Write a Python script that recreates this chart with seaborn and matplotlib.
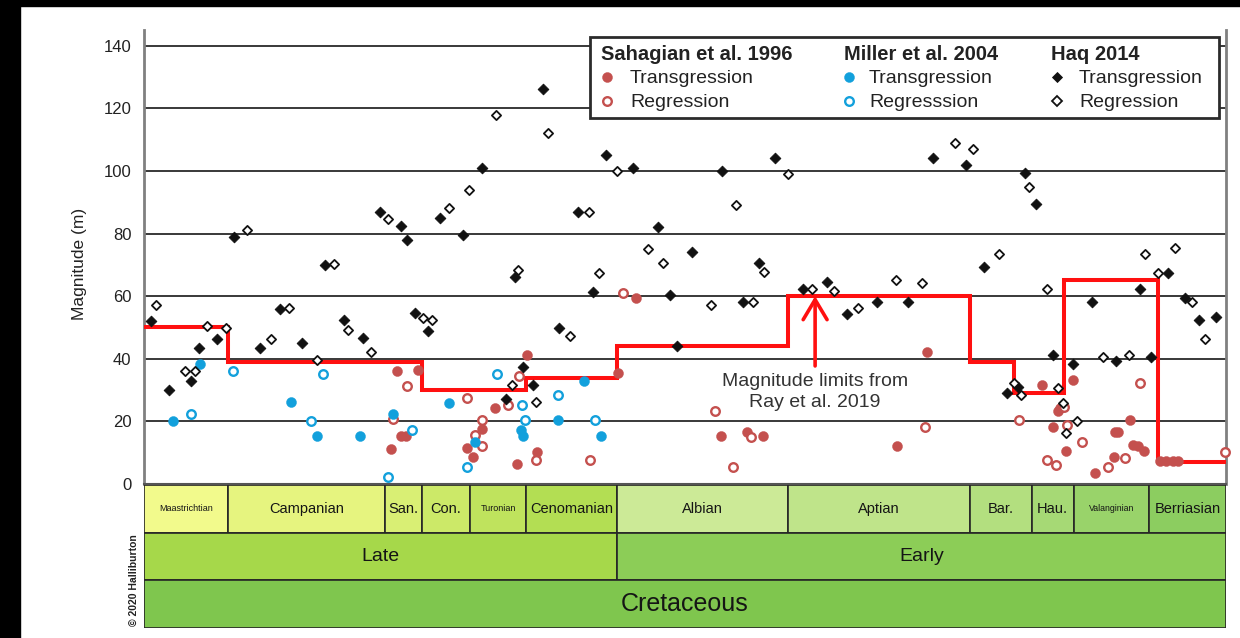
import numpy as np
import pandas as pd
import matplotlib
matplotlib.use("Agg")
import matplotlib.pyplot as plt
from matplotlib.patches import Rectangle
import seaborn as sns

# ---------------------------------------------------------------- data
# Cretaceous chronostratigraphy (Ma)
stage_names = ["Maastrichtian", "Campanian", "San.", "Con.", "Turonian", "Cenomanian",
               "Albian", "Aptian", "Bar.", "Hau.", "Valanginian", "Berriasian"]
stage_edges = [66.0, 72.1, 83.6, 86.3, 89.8, 93.9, 100.5,
               113.0, 126.3, 130.8, 133.9, 139.4, 145.0]
epoch_names = ["Late", "Early"]
epoch_edges = [66.0, 100.5, 145.0]
period_names = ["Cretaceous"]
period_edges = [66.0, 145.0]

# Magnitude limits from Ray et al. 2019 (step function)
limit_edges = [66.0, 72.1, 86.3, 93.9, 100.5, 113.0, 126.3, 129.5, 133.2, 140.0, 145.0]
limit_values = [50, 39, 30, 34, 44, 60, 39, 29, 65, 7]

# Sahagian et al. 1996
sahagian_trans_age = [84.0, 84.5, 84.8, 85.1, 86.0, 89.6, 90.0, 90.7, 91.6, 93.2, 94.0, 94.7,
                      100.6, 101.9, 108.1, 110.0, 111.2, 121.0, 123.2, 131.6, 132.4, 132.7,
                      132.9, 133.3, 133.8, 135.4, 136.8, 136.9, 137.1, 138.0, 138.2, 138.6,
                      139.0, 140.2, 140.6, 141.1, 141.5]
sahagian_trans_mag = [11.2, 36.1, 15.3, 15.3, 36.4, 11.5, 8.6, 17.6, 24.3, 6.4, 41.2, 10.2,
                      35.5, 59.4, 15.3, 16.6, 15.3, 12.1, 42.2, 31.6, 18.2, 23.3,
                      24.3, 10.5, 33.2, 3.5, 8.6, 16.6, 16.6, 20.4, 12.5, 12.0,
                      10.5, 7.3, 7.3, 7.3, 7.3]
sahagian_regr_age = [84.2, 85.2, 89.6, 90.2, 90.7, 90.7, 92.6, 93.4, 94.6, 98.6, 101.0,
                     107.7, 109.0, 110.3, 123.0, 129.9, 131.9, 132.6, 133.2, 133.4, 134.5,
                     136.4, 137.6, 138.7, 144.9]
sahagian_regr_mag = [20.8, 31.3, 27.5, 15.7, 20.4, 12.1, 25.2, 34.5, 7.7, 7.7, 61.0,
                     23.3, 5.4, 15.0, 18.2, 20.4, 7.7, 6.1, 24.6, 18.8, 13.4,
                     5.4, 8.3, 32.3, 10.2]

# Miller et al. 2004
miller_trans_age = [68.1, 70.1, 76.7, 78.6, 81.8, 84.2, 88.3, 90.2, 93.5, 93.7, 96.2, 98.1, 99.4]
miller_trans_mag = [20.1, 38.3, 26.2, 15.3, 15.3, 22.4, 25.8, 13.4, 17.3, 15.3, 20.4, 33.0, 15.3]
miller_regr_age = [69.4, 72.5, 78.2, 79.1, 83.8, 85.6, 89.6, 91.8, 93.6, 93.8, 96.2, 98.9]
miller_regr_mag = [22.3, 36.1, 20.1, 35.1, 2.2, 17.3, 5.4, 35.0, 25.2, 20.4, 28.4, 20.4]

# Haq 2014
haq_trans_age = [66.5, 67.8, 69.4, 70.0, 71.3, 72.6, 74.5, 75.9, 77.5, 79.2, 80.6, 82.0,
                 83.2, 84.8, 85.2, 85.8, 86.7, 87.6, 89.3, 90.7, 93.1, 92.4, 93.7, 94.4,
                 95.1, 97.7, 96.3, 98.8, 99.7, 101.7, 103.5, 104.4, 104.9, 106.0, 108.2,
                 109.7, 110.9, 112.1, 114.1, 115.9, 117.3, 119.5, 121.8, 123.6, 126.0,
                 127.3, 129.0, 129.8, 130.3, 131.1, 132.4, 133.8, 135.2, 137.0, 138.7,
                 139.5, 140.8, 142.0, 143.0, 144.3]
haq_trans_mag = [52.0, 30.0, 33.0, 43.5, 46.3, 79.0, 43.5, 56.0, 45.0, 70.0, 52.4, 46.6,
                 87.0, 82.3, 78.0, 54.6, 49.0, 85.0, 79.5, 101.0, 66.0, 27.0, 37.4, 31.6,
                 126.0, 87.0, 49.8, 61.3, 105.0, 101.0, 82.0, 60.4, 44.0, 74.0, 100.0,
                 58.0, 70.6, 104.0, 62.3, 64.5, 54.3, 58.1, 58.1, 104.0, 102.0,
                 69.3, 29.0, 31.0, 99.4, 89.5, 41.2, 38.3, 58.1, 39.3, 62.3,
                 40.5, 67.4, 59.4, 52.4, 53.3]
haq_regr_age = [66.9, 69.0, 69.7, 70.6, 72.0, 73.5, 75.3, 76.6, 78.6, 79.9, 80.9, 82.6,
                83.8, 86.4, 87.0, 88.3, 89.7, 91.7, 92.9, 93.3, 94.6, 95.5, 97.1, 98.5,
                99.2, 100.5, 102.8, 103.9, 107.4, 109.2, 110.5, 111.3, 113.0, 114.8,
                116.4, 118.1, 120.9, 122.8, 125.2, 126.5, 128.4, 129.5, 130.0, 130.6,
                131.9, 132.7, 133.1, 133.3, 134.1, 136.0, 137.9, 139.1, 140.0, 141.3,
                142.5, 143.5]
haq_regr_mag = [57.2, 36.1, 36.1, 50.5, 49.8, 81.0, 46.3, 56.2, 39.5, 70.3, 49.2, 42.2,
                84.7, 53.0, 52.4, 88.0, 94.0, 118.0, 31.6, 68.4, 26.2, 112.0, 47.3, 87.0,
                67.4, 100.0, 75.0, 70.5, 57.2, 89.0, 58.1, 67.8, 99.0, 62.3,
                61.7, 56.2, 65.2, 64.2, 109.0, 107.0, 73.4, 32.3, 28.5, 95.0,
                62.3, 30.7, 25.9, 16.3, 20.1, 40.5, 41.2, 73.4, 67.4, 75.3,
                58.1, 46.3]

y_ticks = [0, 20, 40, 60, 80, 100, 120, 140]

# ---------------------------------------------------------------- style
stage_colors = ["#F2FA8C", "#E6F47F", "#D9EF74", "#CCE968", "#BFE35D", "#B3DE53",
                "#CCEA97", "#BFE48A", "#B3DF7F", "#A6D975", "#99D36A", "#8CCD60"]
stage_font = {"Maastrichtian": 6.5, "Turonian": 6.5, "Valanginian": 6.3}
epoch_colors = ["#A6D84A", "#8CCD57"]
period_colors = ["#7FC64E"]

RED = "#C4504E"
BLUE = "#12A0DC"
BLACK = "#111111"
LIMIT_RED = "#FF1010"

sns.set_theme(style="white")
plt.rcParams["font.family"] = ["Liberation Sans", "DejaVu Sans"]

W, H = 1240, 638
fig = plt.figure(figsize=(W / 100, H / 100), dpi=100)
fig.patch.set_facecolor("white")

# frame of the page
fig.add_artist(Rectangle((0, 0), 20 / W, 1, transform=fig.transFigure,
                         color="black", zorder=0))
fig.add_artist(Rectangle((0, 1 - 6 / H), 1, 6 / H, transform=fig.transFigure,
                         color="black", zorder=0))

ax_l, ax_r = 144 / W, 1226 / W
ax_top, ax_bot = 1 - 30 / H, 1 - 484 / H
ax = fig.add_axes([ax_l, ax_bot, ax_r - ax_l, ax_top - ax_bot])
ax.set_facecolor("white")


def scatter(ages, mags, marker, size, face, edge, lw, z):
    df = pd.DataFrame({"age": ages, "mag": mags})
    sns.scatterplot(data=df, x="age", y="mag", marker=marker, s=size, color=face,
                    edgecolor=edge, linewidth=lw, ax=ax, legend=False, zorder=z,
                    clip_on=False)


scatter(sahagian_trans_age, sahagian_trans_mag, "o", 52, RED, RED, 0.3, 4)
scatter(sahagian_regr_age, sahagian_regr_mag, "o", 38, "white", RED, 1.7, 4)
scatter(miller_trans_age, miller_trans_mag, "o", 52, BLUE, BLUE, 0.3, 4)
scatter(miller_regr_age, miller_regr_mag, "o", 38, "white", BLUE, 1.7, 4)
scatter(haq_trans_age, haq_trans_mag, "D", 30, BLACK, BLACK, 0.6, 5)
scatter(haq_regr_age, haq_regr_mag, "D", 22, "white", BLACK, 1.3, 5)

ax.set_xlim(66, 145)
ax.set_ylim(0, 145)
ax.set_xticks([])
ax.set_xlabel("")
ax.set_yticks(y_ticks)
ax.set_yticklabels([str(v) for v in y_ticks])
ax.tick_params(axis="y", length=0, pad=9, labelsize=12, labelcolor="#222222")
ax.set_axisbelow(True)
ax.yaxis.grid(True, color="#383838", lw=1.4)
ax.xaxis.grid(False)
for side in ["left", "right"]:
    ax.spines[side].set_color("#808080")
    ax.spines[side].set_linewidth(2.0)
ax.spines["bottom"].set_color("#555555")
ax.spines["bottom"].set_linewidth(1.5)
ax.spines["top"].set_visible(False)
ax.set_ylabel("Magnitude (m)", fontsize=12.5, color="#222222")
ax.yaxis.set_label_coords(-0.053, 0.485)

# magnitude limits
ax.stairs(limit_values, limit_edges, baseline=None, color=LIMIT_RED, lw=2.9, zorder=3)
ax.annotate("", xy=(115.0, 60.0), xytext=(115.0, 37.7),
            arrowprops=dict(arrowstyle="->,head_length=0.72,head_width=0.43",
                            mutation_scale=20, color=LIMIT_RED, lw=2.6,
                            shrinkA=0, shrinkB=0), zorder=3)
ax.text(115.0, 29.3, "Magnitude limits from\nRay et al. 2019", ha="center", va="center",
        fontsize=14, color="#333333", linespacing=1.3, zorder=3)


# legend box
def axx(px):
    return (px - 144) / 1082


def axy(py):
    return (484 - py) / 454


ax.add_patch(Rectangle((axx(590), axy(118)), axx(1219) - axx(590), axy(37) - axy(118),
                       transform=ax.transAxes, facecolor="white", edgecolor="#2b2b2b",
                       lw=2.0, zorder=10, clip_on=False))
legend_cols = [
    ("Sahagian et al. 1996", 601, 607, 630,
     dict(marker="o", ms=7.2, mfc=RED, mec=RED, mew=0.3),
     dict(marker="o", ms=6.2, mfc="white", mec=RED, mew=1.7), "Regression"),
    ("Miller et al. 2004", 844, 849, 869,
     dict(marker="o", ms=7.2, mfc=BLUE, mec=BLUE, mew=0.3),
     dict(marker="o", ms=6.2, mfc="white", mec=BLUE, mew=1.7), "Regresssion"),
    ("Haq 2014", 1051, 1057, 1079,
     dict(marker="D", ms=5.4, mfc=BLACK, mec=BLACK, mew=0.6),
     dict(marker="D", ms=4.7, mfc="white", mec=BLACK, mew=1.3), "Regression"),
]
for head, hx, mx, tx, t_style, r_style, r_label in legend_cols:
    ax.text(axx(hx), axy(55), head, transform=ax.transAxes, ha="left", va="center",
            fontsize=14.5, fontweight="bold", color="#222222", zorder=11)
    for py, style, lab in [(77, t_style, "Transgression"), (101, r_style, r_label)]:
        ax.plot([axx(mx)], [axy(py)], transform=ax.transAxes, ls="none", zorder=11,
                clip_on=False, **style)
        ax.text(axx(tx), axy(py + 1.5), lab, transform=ax.transAxes, ha="left",
                va="center", fontsize=14, color="#222222", zorder=11)

# chronostratigraphic strip
strip_top, strip_bot = 1 - 485 / H, 1 - 628 / H
ax_s = fig.add_axes([ax_l, strip_bot, ax_r - ax_l, strip_top - strip_bot])
ax_s.set_xlim(66, 145)
ax_s.set_ylim(3, 0)
ax_s.axis("off")

rows = [
    (stage_names, stage_edges, stage_colors, 0.5),
    (epoch_names, epoch_edges, epoch_colors, 1.5),
    (period_names, period_edges, period_colors, 2.5),
]
row_font = {0.5: 10.5, 1.5: 14, 2.5: 18}
for names, edges, colors, yc in rows:
    lefts = np.array(edges[:-1])
    widths = np.diff(edges)
    ax_s.barh(y=[yc] * len(names), width=widths, left=lefts, height=1.0,
              color=colors, edgecolor="#262626", linewidth=1.2)
    for name, l0, w in zip(names, lefts, widths):
        fs = stage_font.get(name, row_font[yc])
        ax_s.text(l0 + w / 2, yc, name, ha="center", va="center", fontsize=fs,
                  color="#151515")

fig.text(134 / W, 1 - 580 / H, "\u00a9 2020 Halliburton", rotation=90, ha="center",
         va="center", fontsize=7.5, fontweight="bold", color="#222222")

fig.savefig("out.png", dpi=100, facecolor="white")
